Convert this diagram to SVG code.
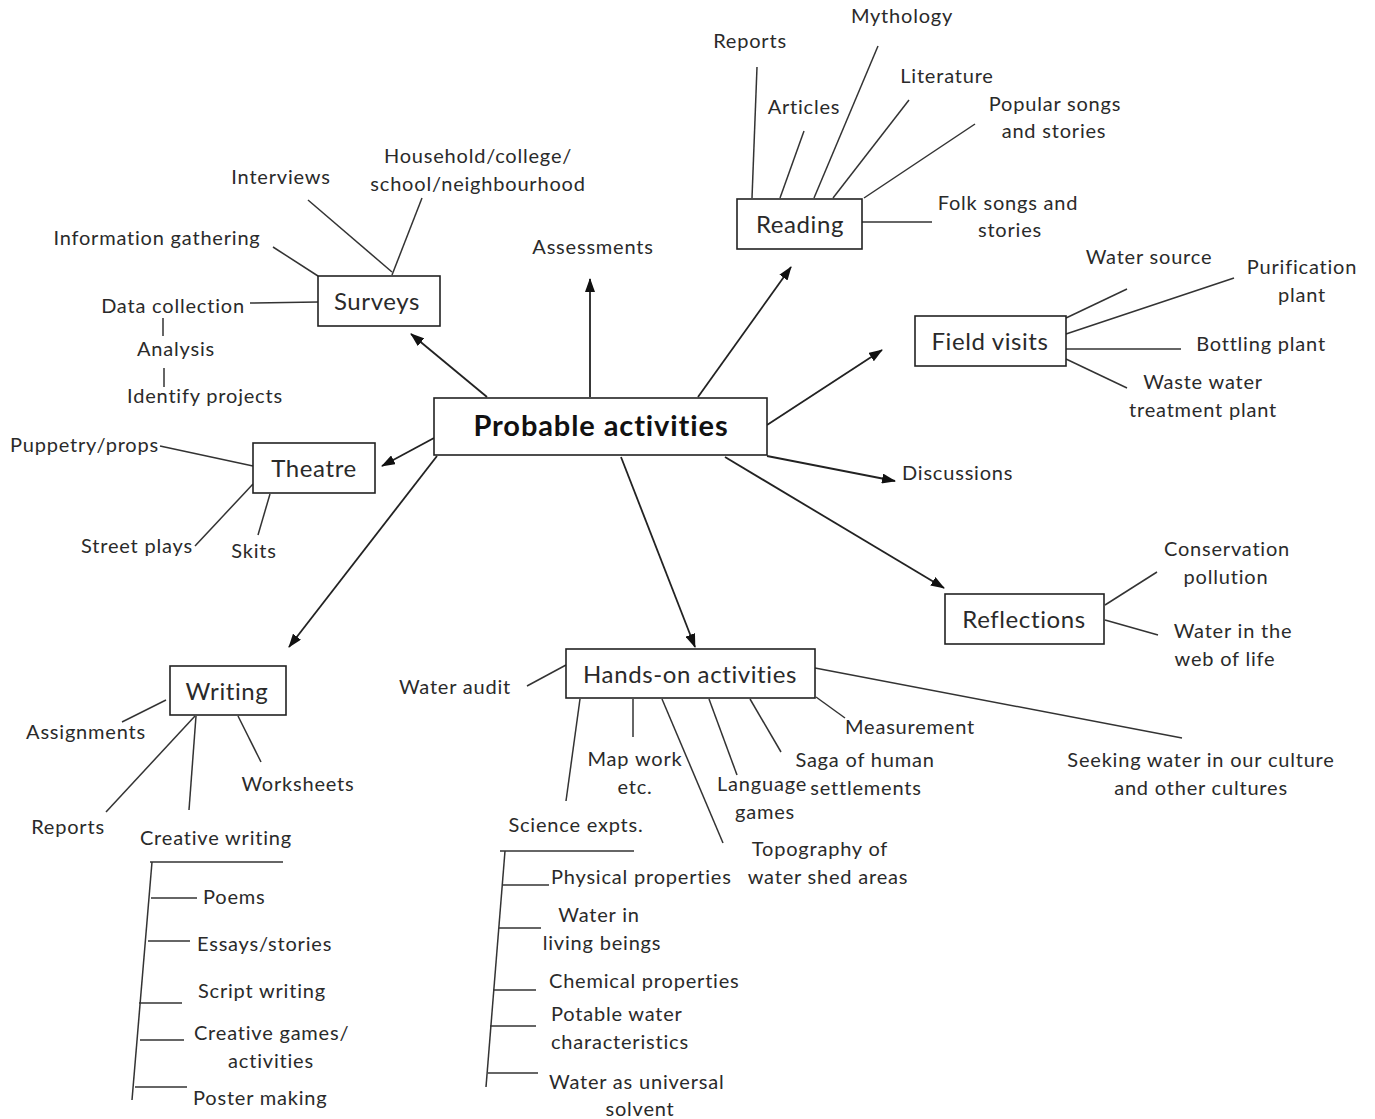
<svg xmlns="http://www.w3.org/2000/svg" width="1375" height="1119" viewBox="0 0 1375 1119">
<defs>
<style>
text{font-family:Lato,"Open Sans","Liberation Sans",sans-serif;font-size:20px;letter-spacing:0.8px;fill:#2a2a2a}
.m{text-anchor:middle}
.box{fill:#fff;stroke:#222;stroke-width:1.6}
.t{font-size:24px;letter-spacing:0.6px;text-anchor:middle}
.c{font-size:29px;letter-spacing:0.9px;font-weight:bold;text-anchor:middle;fill:#111}
.ln{stroke:#333;stroke-width:1.5;fill:none}
.ar{stroke:#222;stroke-width:1.8;fill:none;marker-end:url(#ah)}
</style>
<marker id="ah" viewBox="0 0 14 10" refX="13" refY="5" markerWidth="14" markerHeight="10" markerUnits="userSpaceOnUse" orient="auto">
<path d="M0,0 L14,5 L0,10 z" fill="#111"/>
</marker>
</defs>
<rect width="1375" height="1119" fill="#fff"/>

<g id="connectors">
<line class="ar" x1="487" y1="397" x2="411" y2="334"/>
<line class="ar" x1="590" y1="397" x2="590" y2="279"/>
<line class="ar" x1="698" y1="397" x2="791" y2="267"/>
<line class="ar" x1="767" y1="425" x2="882" y2="350"/>
<line class="ar" x1="767" y1="456" x2="895" y2="481"/>
<line class="ar" x1="725" y1="457" x2="944" y2="588"/>
<line class="ar" x1="621" y1="457" x2="695" y2="647"/>
<line class="ar" x1="434" y1="438" x2="382" y2="466"/>
<line class="ar" x1="437" y1="456" x2="289" y2="647"/>
<line class="ln" x1="308" y1="200" x2="392" y2="272"/>
<line class="ln" x1="422" y1="198" x2="392" y2="275"/>
<line class="ln" x1="273" y1="247" x2="318" y2="276"/>
<line class="ln" x1="250" y1="303" x2="318" y2="302"/>
<line class="ln" x1="163" y1="318" x2="163" y2="336"/>
<line class="ln" x1="164" y1="368" x2="164" y2="387"/>
<line class="ln" x1="757" y1="67" x2="752" y2="198"/>
<line class="ln" x1="804" y1="131" x2="780" y2="198"/>
<line class="ln" x1="878" y1="46" x2="814" y2="198"/>
<line class="ln" x1="909" y1="100" x2="833" y2="198"/>
<line class="ln" x1="975" y1="124" x2="864" y2="198"/>
<line class="ln" x1="862" y1="222" x2="932" y2="222"/>
<line class="ln" x1="1066" y1="318" x2="1127" y2="289"/>
<line class="ln" x1="1066" y1="334" x2="1234" y2="278"/>
<line class="ln" x1="1066" y1="349" x2="1181" y2="349"/>
<line class="ln" x1="1066" y1="359" x2="1127" y2="388"/>
<line class="ln" x1="1105" y1="605" x2="1157" y2="572"/>
<line class="ln" x1="1105" y1="620" x2="1158" y2="635"/>
<line class="ln" x1="160" y1="446" x2="253" y2="466"/>
<line class="ln" x1="253" y1="484" x2="195" y2="546"/>
<line class="ln" x1="270" y1="494" x2="258" y2="535"/>
<line class="ln" x1="166" y1="700" x2="122" y2="722"/>
<line class="ln" x1="195" y1="716" x2="106" y2="812"/>
<line class="ln" x1="196" y1="716" x2="189" y2="810"/>
<line class="ln" x1="238" y1="716" x2="261" y2="762"/>
<line class="ln" x1="150" y1="862" x2="283" y2="862"/>
<line class="ln" x1="152" y1="862" x2="132" y2="1100"/>
<line class="ln" x1="151" y1="898" x2="197" y2="898"/>
<line class="ln" x1="148" y1="941" x2="190" y2="941"/>
<line class="ln" x1="139" y1="1003" x2="182" y2="1003"/>
<line class="ln" x1="140" y1="1040" x2="184" y2="1040"/>
<line class="ln" x1="135" y1="1087" x2="187" y2="1087"/>
<line class="ln" x1="527" y1="686" x2="566" y2="665"/>
<line class="ln" x1="580" y1="699" x2="566" y2="801"/>
<line class="ln" x1="633" y1="699" x2="633" y2="737"/>
<line class="ln" x1="662" y1="699" x2="723" y2="843"/>
<line class="ln" x1="709" y1="699" x2="737" y2="775"/>
<line class="ln" x1="750" y1="699" x2="781" y2="752"/>
<line class="ln" x1="816" y1="697" x2="845" y2="718"/>
<line class="ln" x1="815" y1="668" x2="1182" y2="738"/>
<line class="ln" x1="500" y1="851" x2="634" y2="851"/>
<line class="ln" x1="505" y1="851" x2="486" y2="1087"/>
<line class="ln" x1="503" y1="885" x2="549" y2="885"/>
<line class="ln" x1="499" y1="928" x2="541" y2="928"/>
<line class="ln" x1="493" y1="990" x2="536" y2="990"/>
<line class="ln" x1="490" y1="1026" x2="536" y2="1026"/>
<line class="ln" x1="488" y1="1073" x2="538" y2="1073"/>
</g>

<g id="centre">
<rect class="box" x="434" y="398" width="333" height="57"/>
<text class="c" x="601" y="436">Probable activities</text>
</g>

<g id="surveys">
<rect class="box" x="318" y="276" width="122" height="50"/>
<text class="t" x="377" y="310">Surveys</text>
<text class="m" x="281" y="184">Interviews</text>
<text class="m" x="478" y="163">Household/college/</text>
<text class="m" x="478" y="191">school/neighbourhood</text>
<text class="m" x="157" y="245">Information gathering</text>
<text class="m" x="173" y="313">Data collection</text>
<text class="m" x="176" y="356">Analysis</text>
<text class="m" x="205" y="403">Identify projects</text>
</g>

<g id="assessments">
<text class="m" x="593" y="254">Assessments</text>
</g>

<g id="reading">
<rect class="box" x="737" y="199" width="125" height="50"/>
<text class="t" x="800" y="233">Reading</text>
<text class="m" x="902" y="23">Mythology</text>
<text class="m" x="750" y="48">Reports</text>
<text class="m" x="947" y="83">Literature</text>
<text class="m" x="804" y="114">Articles</text>
<text class="m" x="1055" y="111">Popular songs</text>
<text class="m" x="1054" y="138">and stories</text>
<text class="m" x="1008" y="210">Folk songs and</text>
<text class="m" x="1010" y="237">stories</text>
</g>

<g id="field-visits">
<rect class="box" x="915" y="316" width="151" height="50"/>
<text class="t" x="990" y="350">Field visits</text>
<text class="m" x="1149" y="264">Water source</text>
<text class="m" x="1302" y="274">Purification</text>
<text class="m" x="1302" y="302">plant</text>
<text class="m" x="1261" y="351">Bottling plant</text>
<text class="m" x="1203" y="389">Waste water</text>
<text class="m" x="1203" y="417">treatment plant</text>
</g>

<g id="discussions">
<text x="902" y="480">Discussions</text>
</g>

<g id="reflections">
<rect class="box" x="945" y="594" width="159" height="50"/>
<text class="t" x="1024" y="628">Reflections</text>
<text class="m" x="1227" y="556">Conservation</text>
<text class="m" x="1226" y="584">pollution</text>
<text class="m" x="1233" y="638">Water in the</text>
<text class="m" x="1225" y="666">web of life</text>
</g>

<g id="theatre">
<rect class="box" x="253" y="443" width="122" height="50"/>
<text class="t" x="314" y="477">Theatre</text>
<text x="10" y="452">Puppetry/props</text>
<text class="m" x="137" y="553">Street plays</text>
<text class="m" x="254" y="558">Skits</text>
</g>

<g id="writing">
<rect class="box" x="170" y="666" width="116" height="49"/>
<text class="t" x="227" y="700">Writing</text>
<text class="m" x="86" y="739">Assignments</text>
<text class="m" x="68" y="834">Reports</text>
<text class="m" x="298" y="791">Worksheets</text>
<text class="m" x="216" y="845">Creative writing</text>
<text x="203" y="904">Poems</text>
<text x="197" y="951">Essays/stories</text>
<text x="198" y="998">Script writing</text>
<text x="194" y="1040">Creative games/</text>
<text class="m" x="271" y="1068">activities</text>
<text x="193" y="1105">Poster making</text>
</g>

<g id="hands-on">
<rect class="box" x="566" y="649" width="249" height="49"/>
<text class="t" x="690" y="683">Hands-on activities</text>
<text class="m" x="455" y="694">Water audit</text>
<text class="m" x="576" y="832">Science expts.</text>
<text class="m" x="635" y="766">Map work</text>
<text class="m" x="635" y="794">etc.</text>
<text class="m" x="820" y="856">Topography of</text>
<text class="m" x="828" y="884">water shed areas</text>
<text class="m" x="762" y="791">Language</text>
<text class="m" x="765" y="819">games</text>
<text class="m" x="865" y="767">Saga of human</text>
<text class="m" x="866" y="795">settlements</text>
<text class="m" x="910" y="734">Measurement</text>
<text class="m" x="1201" y="767">Seeking water in our culture</text>
<text class="m" x="1201" y="795">and other cultures</text>
<text x="551" y="884">Physical properties</text>
<text class="m" x="599" y="922">Water in</text>
<text class="m" x="602" y="950">living beings</text>
<text x="549" y="988">Chemical properties</text>
<text x="551" y="1021">Potable water</text>
<text x="551" y="1049">characteristics</text>
<text x="549" y="1089">Water as universal</text>
<text class="m" x="640" y="1116">solvent</text>
</g>
</svg>
